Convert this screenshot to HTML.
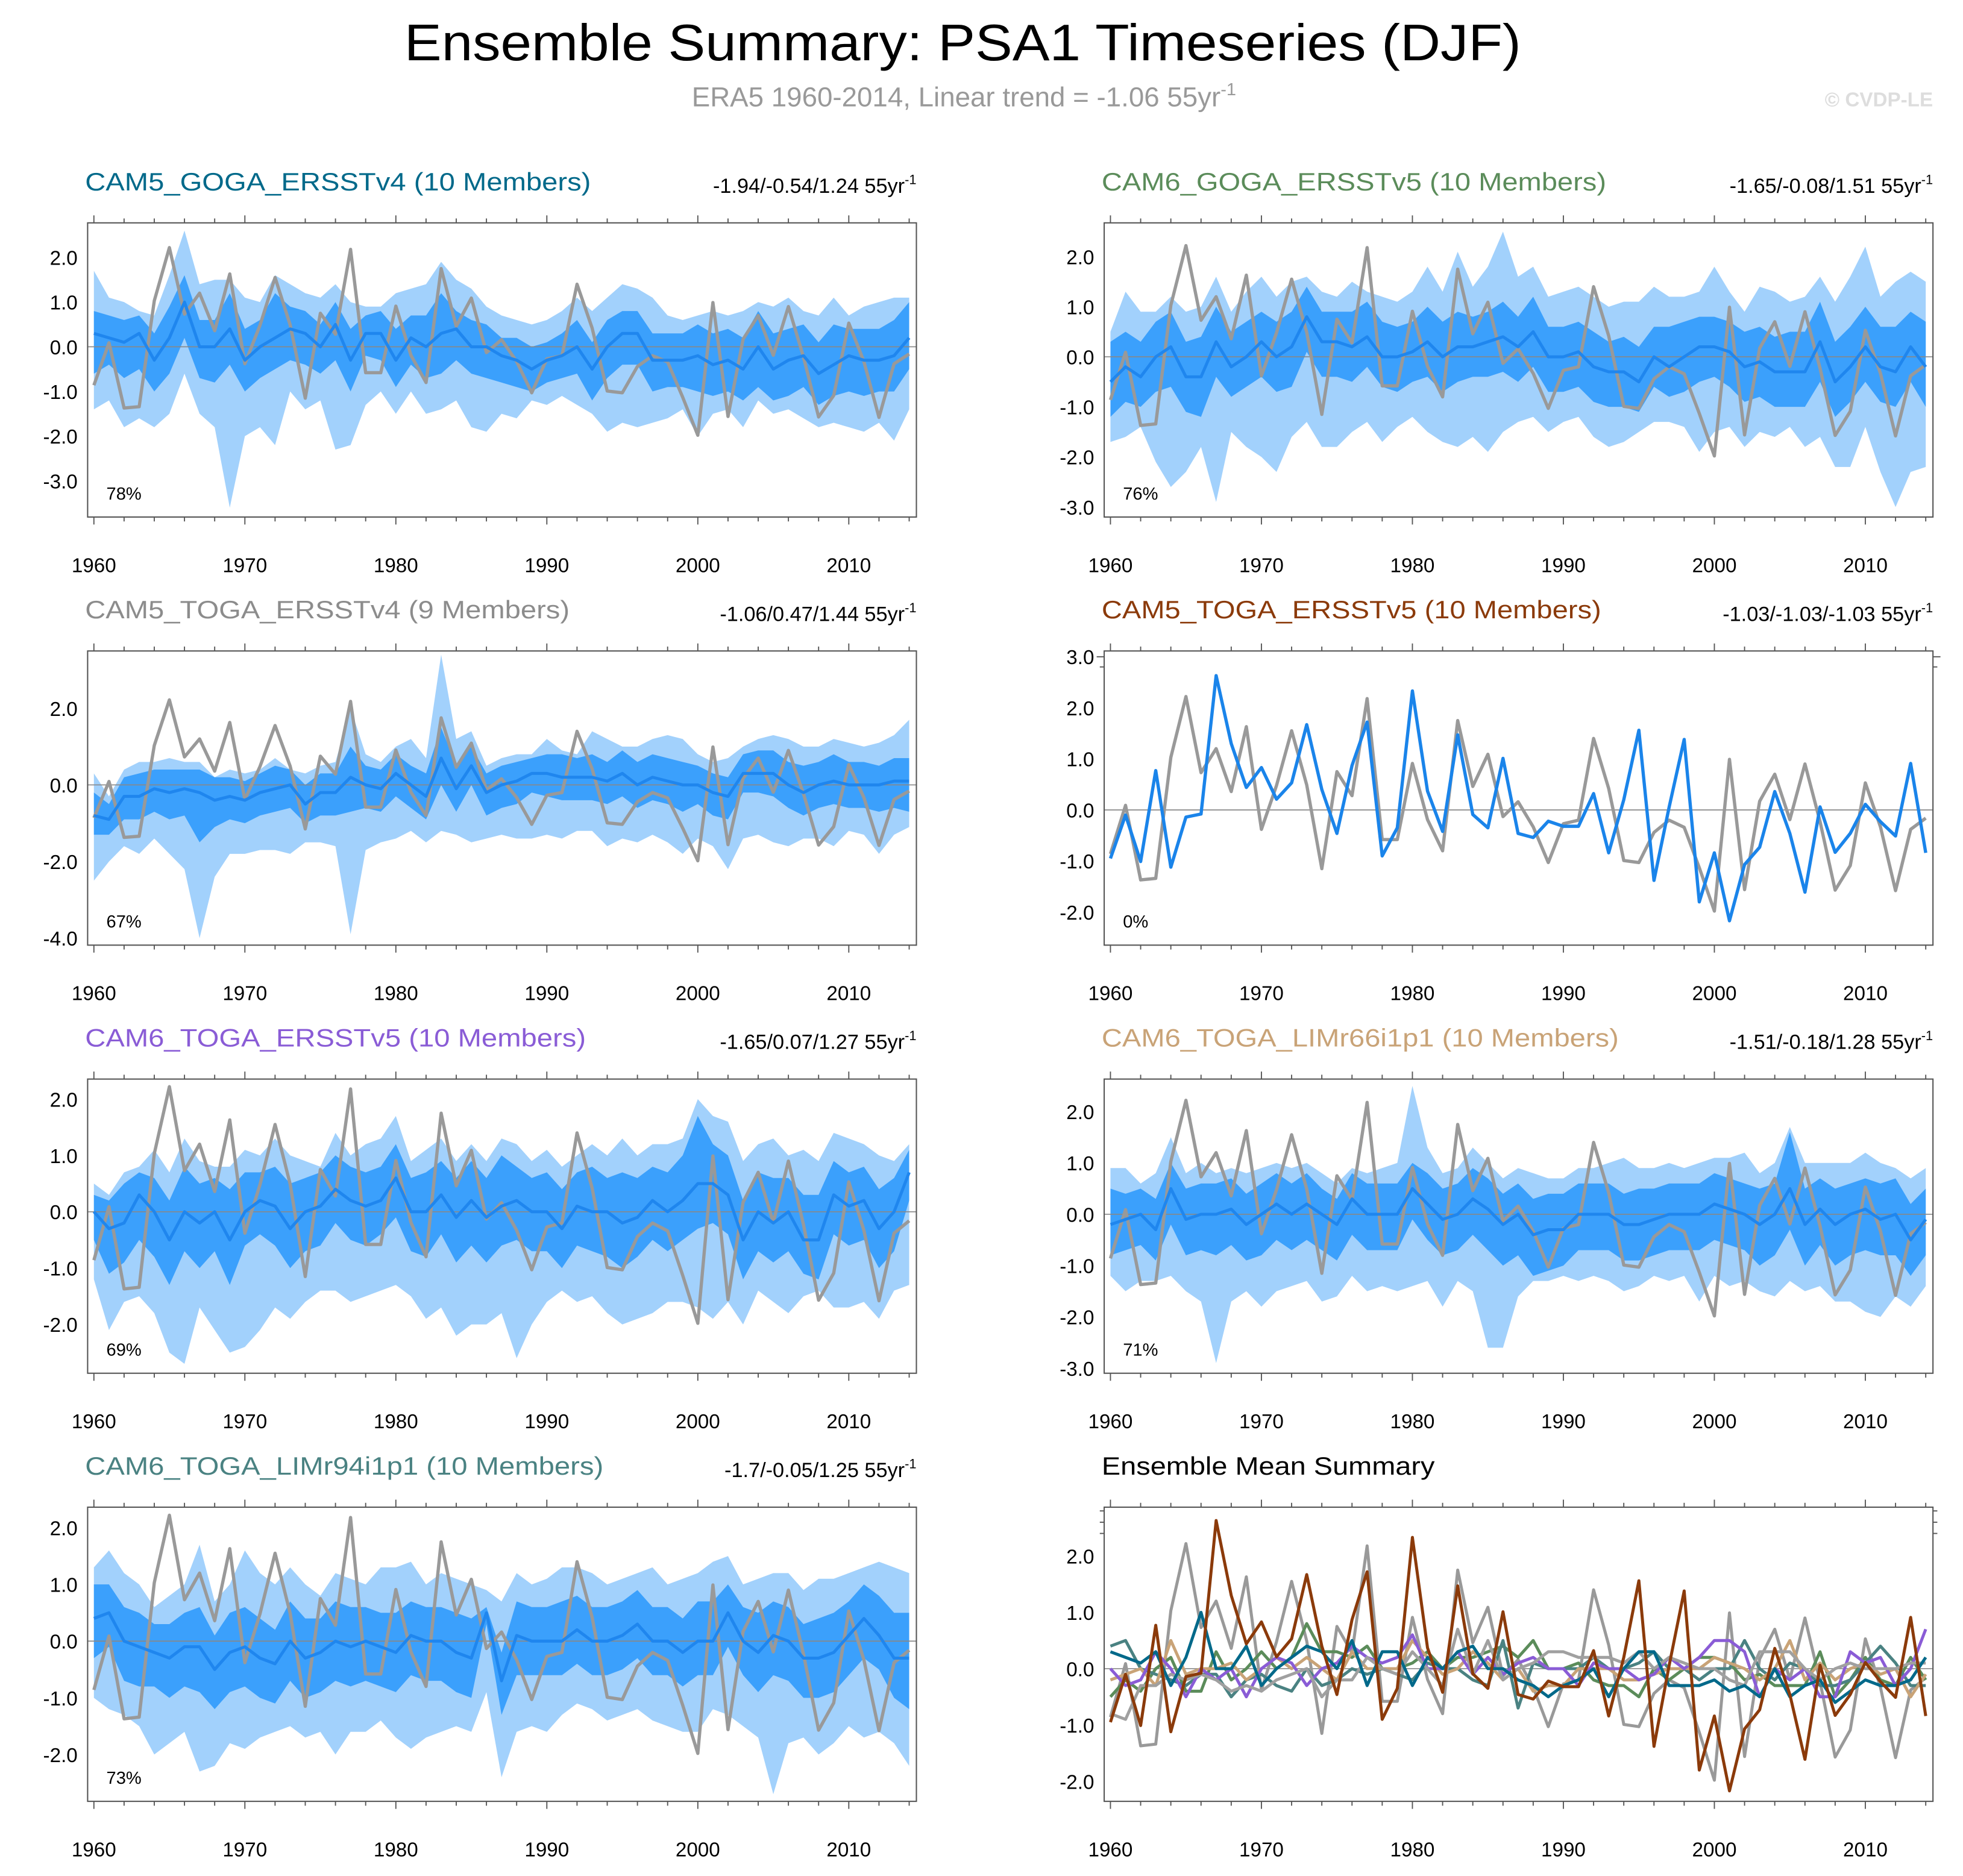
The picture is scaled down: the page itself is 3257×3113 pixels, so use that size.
<!DOCTYPE html>
<html><head><meta charset="utf-8"><style>
html,body{margin:0;padding:0;background:#fff;}
svg{display:block;font-family:"Liberation Sans",sans-serif;}
</style></head><body>
<svg id="chart" xmlns="http://www.w3.org/2000/svg" width="3257" height="3113" viewBox="0 0 1568 1498.6">
<rect x="0" y="0" width="1568" height="1498.6" fill="#fff"/>
<text x="769" y="48" font-size="41" text-anchor="middle" textLength="892" lengthAdjust="spacingAndGlyphs">Ensemble Summary: PSA1 Timeseries (DJF)</text>
<text x="770" y="85" font-size="22" fill="#999" text-anchor="middle">ERA5 1960-2014, Linear trend = -1.06 55yr<tspan dy="-9" font-size="14">-1</tspan></text>
<text x="1544" y="85" font-size="16" font-weight="bold" fill="#ddd" text-anchor="end">© CVDP-LE</text>
<g id="panels"></g>
</svg>
<script>
const years = [];
for (let y = 1960; y <= 2014; y++) years.push(y);
const era5 = [-0.86,0.09,-1.37,-1.34,1.03,2.22,0.73,1.20,0.36,1.63,-0.38,0.48,1.55,0.49,-1.15,0.75,0.28,2.18,-0.58,-0.58,0.91,-0.19,-0.80,1.75,0.46,1.09,-0.13,0.16,-0.33,-1.03,-0.27,-0.20,1.40,0.42,-0.99,-1.03,-0.44,-0.20,-0.34,-1.13,-1.98,0.99,-1.56,0.17,0.70,-0.19,0.90,-0.23,-1.57,-1.09,0.53,-0.33,-1.58,-0.38,-0.16];
const cam5TogaV5 = [-0.95,-0.10,-1.01,0.77,-1.12,-0.14,-0.08,2.63,1.30,0.44,0.83,0.21,0.53,1.67,0.40,-0.46,0.87,1.72,-0.90,-0.35,2.33,0.37,-0.42,1.47,-0.09,-0.35,1.01,-0.46,-0.54,-0.22,-0.32,-0.32,0.32,-0.84,0.20,1.56,-1.38,0.05,1.38,-1.80,-0.84,-2.17,-1.07,-0.73,0.36,-0.46,-1.61,0.06,-0.83,-0.46,0.11,-0.23,-0.51,0.91,-0.84];

const p1Mean=[0.3,0.2,0.1,0.3,-0.3,0.2,1.0,0.0,0.0,0.4,-0.3,0.0,0.2,0.4,0.3,0.0,0.5,-0.3,0.3,0.3,-0.3,0.2,0.0,0.3,0.4,0.0,0.0,-0.2,-0.3,-0.5,-0.3,-0.2,0.0,-0.5,0.0,0.3,0.3,-0.3,-0.3,-0.3,-0.2,-0.4,-0.3,-0.5,0.0,-0.5,-0.3,-0.2,-0.6,-0.4,-0.2,-0.3,-0.3,-0.2,0.2];
const p1Max=[1.7,1.1,1.0,0.8,0.7,1.6,2.6,1.4,1.5,1.5,1.1,1.0,1.6,1.4,1.2,1.1,1.4,1.0,0.9,0.9,1.2,1.3,1.4,1.9,1.5,1.3,0.9,0.7,0.6,0.5,0.6,0.8,1.1,0.8,1.1,1.4,1.3,1.1,0.7,0.6,0.7,0.8,0.7,0.8,1.0,0.9,1.1,0.8,0.7,1.1,0.7,0.9,1.0,1.1,1.1];
const p1Min=[-1.4,-1.2,-1.8,-1.6,-1.8,-1.5,-0.6,-1.5,-1.8,-3.6,-2.0,-1.8,-2.2,-1.0,-1.4,-1.2,-2.3,-2.2,-1.3,-1.0,-1.5,-1.0,-1.5,-1.4,-1.2,-1.8,-1.9,-1.5,-1.6,-1.2,-1.3,-1.1,-1.3,-1.5,-1.9,-1.7,-1.8,-1.7,-1.6,-1.4,-2.0,-1.5,-1.4,-1.8,-1.2,-1.5,-1.4,-1.6,-1.8,-1.7,-1.8,-1.9,-1.7,-2.1,-1.4];
const p1P90=[0.8,0.7,0.6,0.7,0.3,0.9,1.6,0.6,0.6,1.2,0.4,0.6,1.2,0.9,0.8,0.5,1.0,0.4,0.7,0.8,0.4,0.7,0.7,1.2,0.8,0.6,0.5,0.2,0.2,0.0,0.1,0.3,0.6,0.1,0.6,0.8,0.8,0.3,0.3,0.3,0.5,0.3,0.4,0.2,0.8,0.3,0.4,0.5,0.1,0.5,0.4,0.4,0.4,0.6,1.0];
const p1P10=[-0.6,-0.4,-0.7,-0.5,-1.0,-0.6,0.2,-0.7,-0.8,-0.4,-1.0,-0.7,-0.5,-0.3,-0.4,-0.6,-0.3,-1.0,-0.2,-0.3,-0.9,-0.4,-0.7,-0.6,-0.3,-0.6,-0.7,-0.8,-0.9,-1.0,-0.8,-0.7,-0.6,-1.2,-0.7,-0.4,-0.4,-1.0,-0.9,-0.9,-1.0,-1.1,-1.0,-1.2,-0.9,-1.2,-1.1,-0.9,-1.3,-1.1,-1.0,-1.1,-1.0,-1.0,-0.5];

const p2Mean=[-0.5,-0.2,-0.4,0.0,0.2,-0.4,-0.4,0.3,-0.2,0.0,0.3,0.0,0.2,0.8,0.3,0.3,0.2,0.4,0.0,0.0,0.1,0.3,0.0,0.2,0.2,0.3,0.4,0.2,0.5,0.0,0.0,0.1,-0.2,-0.3,-0.3,-0.5,0.0,-0.2,0.0,0.2,0.2,0.1,-0.2,-0.1,-0.3,-0.3,-0.3,0.3,-0.5,-0.2,0.2,-0.2,-0.3,0.2,-0.2];
const p2Max=[0.5,1.3,0.9,0.9,1.2,0.9,1.0,1.6,0.9,1.3,1.6,1.2,1.5,1.6,1.3,1.2,1.5,1.3,1.2,1.1,1.3,1.8,1.3,2.1,1.4,1.8,2.5,1.6,1.8,1.2,1.3,1.4,1.2,1.0,1.1,1.1,1.4,1.2,1.2,1.3,1.8,1.3,0.9,1.4,1.3,1.1,1.2,1.6,1.1,1.6,2.2,1.2,1.5,1.7,1.5];
const p2Min=[-1.7,-1.6,-1.4,-2.1,-2.6,-2.3,-1.8,-2.9,-1.5,-1.8,-2.0,-2.3,-1.6,-1.3,-1.8,-1.8,-1.5,-1.3,-1.7,-1.4,-1.2,-1.5,-1.7,-1.8,-1.6,-1.9,-1.5,-1.3,-1.2,-1.5,-1.3,-1.2,-1.6,-1.8,-1.7,-1.5,-1.3,-1.3,-1.4,-1.9,-1.5,-1.4,-1.8,-1.5,-1.6,-1.4,-1.8,-1.6,-2.2,-2.2,-1.4,-2.3,-3.0,-2.3,-2.2];
const p2P90=[0.3,0.5,0.3,0.7,0.9,0.3,0.4,1.0,0.5,0.7,0.9,0.7,0.9,1.4,0.9,0.9,0.9,1.1,0.7,0.6,0.7,1.0,0.7,0.9,0.8,0.9,1.1,0.8,1.2,0.6,0.6,0.7,0.5,0.3,0.4,0.2,0.6,0.6,0.7,0.8,0.8,0.7,0.5,0.6,0.4,0.5,0.5,1.1,0.3,0.6,1.0,0.6,0.6,0.9,0.7];
const p2P10=[-1.2,-0.9,-1.0,-0.7,-0.6,-1.1,-1.2,-0.4,-0.8,-0.6,-0.4,-0.7,-0.6,0.1,-0.4,-0.4,-0.5,-0.2,-0.6,-0.7,-0.5,-0.4,-0.7,-0.5,-0.4,-0.4,-0.3,-0.5,-0.2,-0.7,-0.7,-0.6,-0.9,-1.0,-1.0,-1.1,-0.6,-0.8,-0.7,-0.5,-0.4,-0.6,-0.9,-0.8,-1.0,-1.0,-1.0,-0.5,-1.2,-0.9,-0.5,-0.9,-1.0,-0.5,-1.0];

const p3Mean=[-0.8,-0.9,-0.3,-0.3,-0.1,-0.2,-0.1,-0.2,-0.4,-0.3,-0.4,-0.2,-0.1,0.0,-0.5,-0.2,-0.2,0.2,0.0,-0.1,0.3,0.0,-0.3,0.7,-0.1,0.5,-0.2,0.0,0.1,0.3,0.3,0.2,0.2,0.2,0.1,0.3,0.0,0.2,0.1,0.0,0.0,-0.2,-0.3,0.3,0.3,0.3,0.0,-0.2,0.0,0.1,0.0,0.0,0.0,0.1,0.1];
const p3Max=[0.3,-0.3,0.4,0.6,0.6,0.7,0.6,0.6,0.2,0.4,0.3,0.4,0.7,0.4,0.3,0.5,0.6,2.0,0.8,0.6,1.0,1.2,0.7,3.4,1.2,1.4,0.5,0.7,0.8,0.8,1.2,0.9,0.8,1.4,1.2,1.0,1.0,1.2,1.3,1.2,0.8,0.6,0.7,1.0,1.2,1.3,1.2,1.0,1.0,1.2,1.1,1.0,1.1,1.3,1.7];
const p3Min=[-2.5,-2.0,-1.6,-1.8,-1.4,-1.8,-2.2,-4.0,-2.4,-1.8,-1.8,-1.7,-1.7,-1.8,-1.5,-1.5,-1.6,-3.9,-1.7,-1.5,-1.4,-1.2,-1.5,-1.2,-1.3,-1.5,-1.4,-1.3,-1.4,-1.4,-1.3,-1.4,-1.2,-1.2,-1.6,-1.4,-1.5,-1.3,-1.5,-1.8,-1.4,-1.6,-2.2,-1.4,-1.3,-1.5,-1.6,-1.4,-1.4,-1.6,-1.2,-1.3,-1.8,-1.3,-1.1];
const p3P90=[-0.2,-0.5,0.2,0.3,0.4,0.4,0.4,0.4,0.2,0.2,0.1,0.3,0.5,0.4,0.0,0.3,0.3,1.0,0.5,0.4,0.8,0.5,0.3,1.5,0.5,1.0,0.3,0.5,0.6,0.7,0.8,0.8,0.7,0.8,0.6,0.9,0.6,0.8,0.7,0.6,0.5,0.3,0.2,0.8,0.9,0.9,0.6,0.5,0.6,0.8,0.6,0.6,0.5,0.7,0.7];
const p3P10=[-1.3,-1.3,-0.9,-0.9,-0.7,-0.9,-0.8,-1.5,-1.1,-0.9,-1.0,-0.8,-0.7,-0.6,-1.0,-0.8,-0.8,-0.7,-0.6,-0.7,-0.3,-0.6,-0.9,0.0,-0.7,0.0,-0.8,-0.6,-0.5,-0.2,-0.3,-0.4,-0.4,-0.4,-0.5,-0.3,-0.6,-0.4,-0.5,-0.7,-0.5,-0.8,-0.9,-0.2,-0.2,-0.3,-0.6,-0.8,-0.6,-0.5,-0.6,-0.6,-0.7,-0.6,-0.7];

const p5Mean=[0.0,-0.3,-0.2,0.3,0.0,-0.5,0.0,-0.2,0.0,-0.5,0.0,0.2,0.1,-0.3,0.0,0.1,0.4,0.2,0.1,0.2,0.6,0.0,0.0,0.3,-0.1,0.2,-0.1,0.1,0.2,0.0,0.0,-0.3,0.1,0.0,0.0,-0.2,-0.1,0.2,0.0,0.2,0.5,0.5,0.3,-0.5,0.0,-0.2,0.0,-0.5,-0.5,0.3,0.1,0.2,-0.3,0.0,0.7];
const p5Max=[0.5,0.3,0.7,0.8,1.1,0.7,1.3,0.9,0.8,0.8,1.1,1.0,1.3,1.0,0.9,0.8,1.4,1.0,1.2,1.3,1.7,0.9,1.1,1.3,0.9,1.2,0.9,1.3,1.2,0.9,1.1,0.8,1.0,1.2,1.0,1.3,1.0,1.2,1.2,1.3,2.0,1.7,1.6,0.9,1.2,1.3,1.0,1.1,0.9,1.4,1.3,1.2,1.0,0.9,1.2];
const p5Min=[-1.2,-2.1,-1.6,-1.5,-1.8,-2.5,-2.7,-1.7,-2.1,-2.5,-2.4,-2.1,-1.7,-1.9,-1.6,-1.4,-1.4,-1.6,-1.5,-1.4,-1.3,-1.5,-1.9,-1.7,-2.2,-2.0,-2.0,-1.8,-2.6,-2.0,-1.6,-1.4,-1.6,-1.5,-1.8,-2.0,-1.9,-1.8,-1.6,-1.6,-1.7,-1.9,-1.6,-2.0,-1.4,-1.6,-1.8,-1.5,-1.4,-1.7,-1.7,-1.6,-1.9,-1.4,-1.3];
const p5P90=[0.3,0.2,0.5,0.7,0.6,0.2,0.8,0.5,0.6,0.4,0.7,0.7,0.8,0.5,0.6,0.7,1.0,0.8,0.7,0.8,1.2,0.6,0.7,0.9,0.6,0.9,0.6,1.0,0.8,0.6,0.7,0.4,0.7,0.8,0.6,0.7,0.6,0.8,0.7,1.0,1.7,1.2,1.0,0.2,0.7,0.6,0.6,0.3,0.3,0.9,0.7,0.8,0.4,0.6,1.1];
const p5P10=[-0.5,-1.1,-0.9,-0.5,-0.8,-1.3,-0.7,-1.0,-0.7,-1.3,-0.6,-0.4,-0.6,-1.0,-0.7,-0.6,-0.2,-0.5,-0.6,-0.4,-0.1,-0.7,-0.8,-0.4,-0.9,-0.6,-0.9,-0.6,-0.5,-0.7,-0.7,-1.0,-0.6,-0.7,-0.8,-1.0,-0.8,-0.5,-0.7,-0.5,-0.3,-0.2,-0.4,-1.2,-0.7,-0.9,-0.7,-1.1,-1.2,-0.4,-0.6,-0.5,-1.0,-0.7,0.2];

const p6Mean=[-0.2,-0.1,0.0,-0.3,0.5,-0.1,0.0,0.0,0.1,-0.2,0.0,0.2,0.0,0.2,0.0,-0.2,0.3,0.0,0.0,0.0,0.5,0.2,-0.1,0.0,0.3,0.1,-0.2,0.0,-0.4,-0.3,-0.3,0.0,0.0,0.0,-0.2,-0.2,-0.1,0.0,0.0,0.0,0.2,0.1,0.0,-0.2,0.0,0.5,-0.2,0.1,-0.2,0.0,0.1,-0.1,0.0,-0.5,-0.1];
const p6Max=[0.9,0.9,0.6,0.8,1.5,0.8,1.0,0.8,0.9,0.8,0.9,1.0,0.9,1.0,0.8,0.6,0.9,0.8,0.9,1.0,2.5,1.3,0.8,0.9,1.3,1.0,0.7,0.9,0.8,0.7,0.7,0.9,0.9,1.0,1.1,0.9,0.9,1.0,0.9,1.0,1.1,1.1,1.2,0.8,1.0,1.7,1.0,1.0,1.0,1.0,1.2,1.0,0.9,0.7,0.9];
const p6Min=[-1.2,-1.5,-1.3,-1.3,-1.2,-1.5,-1.7,-2.9,-1.7,-1.5,-1.8,-1.5,-1.4,-1.3,-1.7,-1.6,-1.2,-1.5,-1.4,-1.5,-1.4,-1.3,-1.8,-1.3,-1.5,-2.6,-2.6,-1.6,-1.3,-1.3,-1.2,-1.3,-1.2,-1.3,-1.5,-1.4,-1.2,-1.3,-1.2,-1.7,-1.2,-1.4,-1.3,-1.5,-1.6,-1.3,-1.5,-1.4,-1.7,-1.7,-1.9,-2.0,-1.6,-1.8,-1.4];
const p6P90=[0.5,0.4,0.5,0.3,1.0,0.5,0.6,0.6,0.7,0.4,0.6,0.8,0.6,0.8,0.5,0.3,0.8,0.6,0.6,0.6,1.0,0.8,0.5,0.6,0.9,0.7,0.4,0.6,0.3,0.4,0.4,0.6,0.6,0.6,0.4,0.5,0.5,0.6,0.6,0.6,0.8,0.7,0.6,0.5,0.6,1.6,0.5,0.7,0.5,0.6,0.7,0.6,0.7,0.2,0.5];
const p6P10=[-0.8,-0.7,-0.6,-0.9,-0.2,-0.8,-0.7,-0.8,-0.6,-0.9,-0.8,-0.5,-0.7,-0.5,-0.7,-0.9,-0.4,-0.7,-0.7,-0.7,-0.1,-0.5,-0.8,-0.7,-0.4,-0.7,-1.0,-0.8,-1.2,-1.1,-1.0,-0.7,-0.7,-0.7,-0.9,-0.9,-0.8,-0.7,-0.7,-0.7,-0.5,-0.6,-0.7,-1.0,-0.8,-0.3,-1.0,-0.6,-1.0,-0.8,-0.7,-0.8,-0.8,-1.2,-0.8];

const p7Mean=[0.4,0.5,0.0,-0.1,-0.2,-0.3,-0.1,-0.1,-0.5,-0.2,-0.1,-0.3,-0.4,0.0,-0.3,-0.2,0.0,-0.1,0.0,-0.1,-0.2,0.1,0.0,0.0,-0.2,-0.3,0.5,-0.7,0.1,0.0,0.0,0.0,0.2,0.0,0.0,0.1,0.3,0.0,0.0,-0.2,0.0,0.0,0.5,0.0,-0.2,0.1,0.0,-0.3,-0.3,-0.2,0.1,0.4,0.1,-0.3,-0.3];
const p7Max=[1.3,1.6,1.2,1.0,0.6,0.8,1.0,1.7,0.7,1.0,1.6,1.2,1.0,1.3,1.0,0.8,1.2,1.1,1.0,1.3,1.3,1.4,1.0,1.2,1.1,1.0,0.9,0.7,1.2,1.0,1.1,1.3,1.3,1.2,1.0,1.1,1.2,1.3,1.0,1.1,1.2,1.4,1.5,1.0,1.1,1.2,1.2,0.9,1.1,1.1,1.2,1.3,1.4,1.3,1.2];
const p7Min=[-1.0,-1.2,-1.3,-1.5,-2.0,-1.8,-1.6,-2.3,-2.2,-1.8,-1.9,-1.7,-1.6,-1.5,-1.7,-1.6,-2.0,-1.6,-1.6,-1.4,-1.7,-1.9,-1.7,-1.6,-1.5,-1.6,-0.9,-2.4,-1.6,-1.5,-1.6,-1.3,-1.1,-1.2,-1.4,-1.3,-1.2,-1.4,-1.5,-1.6,-1.6,-1.2,-1.3,-1.5,-1.7,-2.7,-1.8,-1.7,-2.0,-1.8,-1.5,-1.7,-1.6,-1.8,-2.2];
const p7P90=[1.0,1.0,0.6,0.5,0.3,0.3,0.5,0.6,0.1,0.5,0.6,0.4,0.2,0.7,0.4,0.4,0.7,0.6,0.6,0.5,0.5,0.7,0.6,0.6,0.5,0.4,0.6,-0.2,0.7,0.6,0.6,0.7,0.8,0.6,0.6,0.7,0.9,0.6,0.6,0.4,0.7,0.7,1.0,0.6,0.5,0.7,0.6,0.3,0.4,0.5,0.7,1.0,0.8,0.5,0.5];
const p7P10=[-0.3,-0.1,-0.7,-0.8,-0.8,-1.0,-0.8,-0.9,-1.2,-0.9,-0.8,-1.0,-1.1,-0.7,-1.0,-0.9,-0.7,-0.8,-0.7,-0.8,-0.9,-0.6,-0.7,-0.7,-0.9,-1.0,0.3,-1.3,-0.6,-0.6,-0.6,-0.6,-0.4,-0.6,-0.6,-0.5,-0.3,-0.6,-0.6,-0.8,-0.6,-0.6,-0.1,-0.6,-0.9,-0.6,-0.7,-1.0,-1.0,-0.9,-0.6,-0.3,-0.5,-1.0,-1.2];

const xTickYears=[1960,1970,1980,1990,2000,2010];
const NS="http://www.w3.org/2000/svg";
const root=document.getElementById('panels');
function mk(tag,attrs,parent){const e=document.createElementNS(NS,tag);for(const k in attrs)e.setAttribute(k,attrs[k]);(parent||root).appendChild(e);return e;}

const panels=[
 {id:'cam5-goga-ersstv4',col:0,row:0,title:'CAM5_GOGA_ERSSTv4 (10 Members)',tcol:'#00698a',tlen:404,stats:'-1.94/-0.54/1.24',y0:277,u:35.7,ticks:[-3,-2,-1,0,1,2],minor:0.2,pct:'78%',mean:p1Mean,max:p1Max,min:p1Min,p90:p1P90,p10:p1P10},
 {id:'cam6-goga-ersstv5',col:1,row:0,title:'CAM6_GOGA_ERSSTv5 (10 Members)',tcol:'#5b8c5a',tlen:403,stats:'-1.65/-0.08/1.51',y0:285,u:40,ticks:[-3,-2,-1,0,1,2],minor:0.2,pct:'76%',mean:p2Mean,max:p2Max,min:p2Min,p90:p2P90,p10:p2P10},
 {id:'cam5-toga-ersstv4',col:0,row:1,title:'CAM5_TOGA_ERSSTv4 (9 Members)',tcol:'#8c8c8c',tlen:387,stats:'-1.06/0.47/1.44',y0:627,u:30.6,ticks:[-4,-2,0,2],minor:0.5,pct:'67%',mean:p3Mean,max:p3Max,min:p3Min,p90:p3P90,p10:p3P10},
 {id:'cam5-toga-ersstv5',col:1,row:1,title:'CAM5_TOGA_ERSSTv5 (10 Members)',tcol:'#8b3a0a',tlen:399,stats:'-1.03/-1.03/-1.03',y0:647,u:40.8,ticks:[-2,-1,0,1,2,3],minor:0.2,pct:'0%',single:cam5TogaV5},
 {id:'cam6-toga-ersstv5',col:0,row:2,title:'CAM6_TOGA_ERSSTv5 (10 Members)',tcol:'#8a5cd6',tlen:400,stats:'-1.65/0.07/1.27',y0:968,u:45,ticks:[-2,-1,0,1,2],minor:0.2,pct:'69%',mean:p5Mean,max:p5Max,min:p5Min,p90:p5P90,p10:p5P10},
 {id:'cam6-toga-limr66',col:1,row:2,title:'CAM6_TOGA_LIMr66i1p1 (10 Members)',tcol:'#c9a377',tlen:413,stats:'-1.51/-0.18/1.28',y0:970,u:41,ticks:[-3,-2,-1,0,1,2],minor:0.2,pct:'71%',mean:p6Mean,max:p6Max,min:p6Min,p90:p6P90,p10:p6P10},
 {id:'cam6-toga-limr94',col:0,row:3,title:'CAM6_TOGA_LIMr94i1p1 (10 Members)',tcol:'#4a8282',tlen:414,stats:'-1.7/-0.05/1.25',y0:1311,u:45.3,ticks:[-2,-1,0,1,2],minor:0.2,pct:'73%',mean:p7Mean,max:p7Max,min:p7Min,p90:p7P90,p10:p7P10},
 {id:'ensemble-mean-summary',col:1,row:3,title:'Ensemble Mean Summary',tcol:'#000',tlen:266,stats:null,y0:1333,u:45,ticks:[-2,-1,0,1,2],minor:0.2,pct:null,summary:true}
];

panels.forEach(p=>{
 const bx0=p.col?882:70, bx1=p.col?1544:732;
 const off=342*p.row, top=178+off, bot=413+off;
 const x0=p.col?887:75, dx=12.06;
 const X=yr=>x0+(yr-1960)*dx;
 const Y=v=>p.y0-v*p.u;
 const g=mk('g',{});
 
 
 const t=mk('text',{x:bx0-2,y:152+off,'font-size':20,fill:p.tcol,textLength:p.tlen,lengthAdjust:'spacingAndGlyphs'},g);
 t.textContent=p.title;
 
 
 if(p.stats){
  const s=mk('text',{x:bx1,y:154+off,'font-size':16.5,'text-anchor':'end'},g);
  s.textContent=p.stats+' 55yr';
  const sp=mk('tspan',{dy:-7,'font-size':10.5},s);sp.textContent='-1';
  
  
 }
 const clipId='clip-'+p.id;
 const cp=mk('clipPath',{id:clipId},g);mk('rect',{x:bx0,y:top,width:bx1-bx0,height:bot-top},cp);
 const pg=mk('g',{'clip-path':'url(#'+clipId+')'},g);
 function band(hi,lo,fill,name){
  let d='';years.forEach((yr,i)=>{d+=(i?'L':'M')+X(yr).toFixed(2)+','+Y(hi[i]).toFixed(2);});
  for(let i=years.length-1;i>=0;i--)d+='L'+X(years[i]).toFixed(2)+','+Y(lo[i]).toFixed(2);
  const e=mk('path',{d:d+'Z',fill:fill},pg);
  
  
 }
 function line(vals,col,w,name){
  let d='';years.forEach((yr,i)=>{d+=(i?'L':'M')+X(yr).toFixed(2)+','+Y(vals[i]).toFixed(2);});
  const e=mk('path',{d:d,fill:'none',stroke:col,'stroke-width':w,'stroke-linejoin':'round'},pg);
  
  
 }
 if(p.mean){
  band(p.max,p.min,'#a2d1fc',p.id+'-minmax-band');
  band(p.p90,p.p10,'#3ba0fc',p.id+'-p10-p90-band');
 }
 const z=mk('line',{x1:bx0,x2:bx1,y1:Y(0),y2:Y(0),stroke:'#888','stroke-width':0.8},pg);
 
 
 if(p.mean){
  line(era5,'#999',2.6,p.id+'-era5-line');
  line(p.mean,'#1f86ee',2.4,p.id+'-ensemble-mean-line');
 } else if(p.single){
  line(era5,'#999',2.6,p.id+'-era5-line');
  line(p.single,'#1a84ea',2.6,p.id+'-member-line');
 } else if(p.summary){
  line(era5,'#999',2.4,'summary-era5-line');
  const series=[[p2Mean,'#5b8c5a','cam6-goga-ersstv5'],[p7Mean,'#4a8282','cam6-toga-limr94'],[p6Mean,'#c9a377','cam6-toga-limr66'],[p5Mean,'#8a5cd6','cam6-toga-ersstv5'],[p3Mean,'#a0a0a0','cam5-toga-ersstv4'],[p1Mean,'#00698a','cam5-goga-ersstv4'],[cam5TogaV5,'#8b3a0a','cam5-toga-ersstv5']];
  series.forEach(s=>line(s[0],s[1],2.4,'summary-'+s[2]+'-line'));
 }
 const box=mk('rect',{x:bx0,y:top,width:bx1-bx0,height:bot-top,fill:'none',stroke:'#555','stroke-width':1},g);
 
 
 let td='';
 for(let yr=1960;yr<=2014;yr+=2){const L=(yr%10===0)?6:3.5;const x=X(yr);td+=`M${x},${top}v${-L}M${x},${bot}v${L}`;}
 const vmin=(p.y0-bot)/-p.u, vmax=(p.y0-top)/p.u;
 const start=Math.ceil(vmin/p.minor-1e-6);
 for(let k=start;k*p.minor<=vmax+1e-6;k++){const v=k*p.minor;const isMaj=p.ticks.some(t=>Math.abs(t-v)<1e-6);const L=isMaj?6:3.5;const y=Y(v);td+=`M${bx0},${y}h${-L}M${bx1},${y}h${L}`;}
 mk('path',{d:td,stroke:'#555','stroke-width':0.9,fill:'none'},g);
 xTickYears.forEach(yr=>{const e=mk('text',{x:X(yr),y:457+off,'font-size':16,'text-anchor':'middle'},g);e.textContent=yr;
  
  });
 p.ticks.forEach(v=>{const e=mk('text',{x:bx0-8,y:Y(v)+6,'font-size':16,'text-anchor':'end'},g);e.textContent=v.toFixed(1);
  
  });
 if(p.pct){const e=mk('text',{x:bx0+15,y:399+off,'font-size':14},g);e.textContent=p.pct;
  
  }
});
</script>
</body></html>
